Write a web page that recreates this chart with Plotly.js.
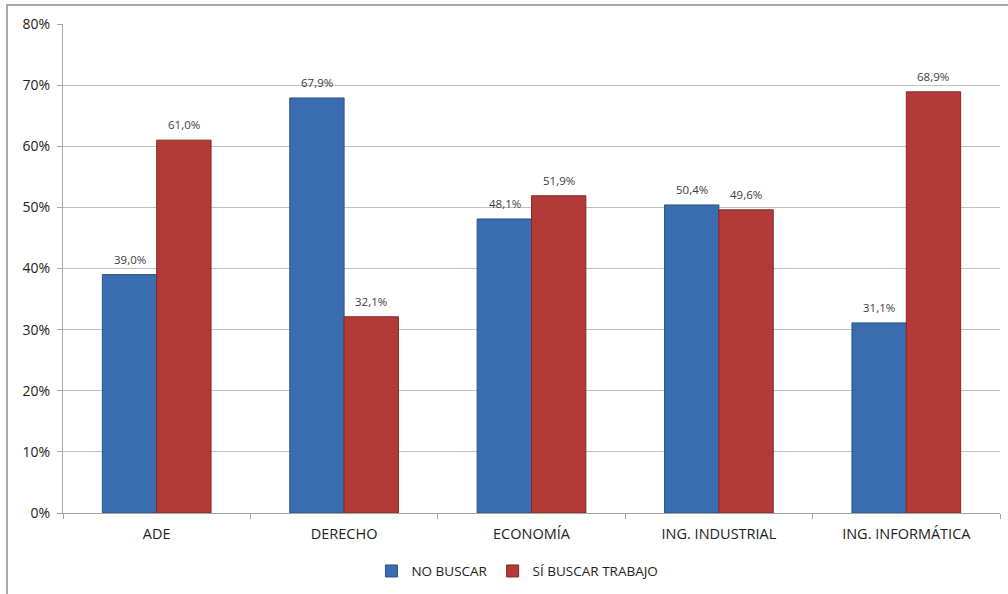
<!DOCTYPE html>
<html><head><meta charset="utf-8">
<script src="https://cdn.plot.ly/plotly-3.0.1.min.js"></script>
<style>body{margin:0;background:#fff}#c{width:1008px;height:594px}</style>
</head><body><div id="c"></div>
<script>
const categories = ["ADE", "DERECHO", "ECONOMÍA", "ING. INDUSTRIAL", "ING. INFORMÁTICA"];
const noBuscar = [0.390, 0.679, 0.481, 0.504, 0.311];
const siBuscar = [0.610, 0.321, 0.519, 0.496, 0.689];
const seriesNames = ["NO BUSCAR", "SÍ BUSCAR TRABAJO"];
const yTicks = [0, 0.1, 0.2, 0.3, 0.4, 0.5, 0.6, 0.7, 0.8];

const font = "Open Sans, Noto Sans, sans-serif";
const common = {
  type: "bar",
  x: categories,
  hoverinfo: "skip"
};
const data = [
  Object.assign({}, common, {name: seriesNames[0], y: noBuscar,
    marker: {color: "#3a6db0", line: {color: "#2b5386", width: 1}}}),
  Object.assign({}, common, {name: seriesNames[1], y: siBuscar,
    marker: {color: "#b23a37", line: {color: "#862826", width: 1}}})
];
const fmt = v => (v * 100).toFixed(1).replace(".", ",") + "%";
const annotations = [];
[noBuscar, siBuscar].forEach((vals, s) => {
  vals.forEach((v, i) => {
    annotations.push({
      x: categories[i], y: v, xref: "x", yref: "y",
      xshift: s === 0 ? -27 : 27, yshift: 6, yanchor: "bottom",
      text: fmt(v), showarrow: false,
      font: {family: font, size: 11.5, color: "#404040"}
    });
  });
});
const layout = {
  width: 1008, height: 594,
  margin: {l: 63, r: 8, t: 24, b: 81, autoexpand: false},
  separators: ",.",
  paper_bgcolor: "#fff", plot_bgcolor: "#fff",
  barmode: "group", bargap: 0.42, bargroupgap: 0,
  font: {family: font, size: 13, color: "#222"},
  xaxis: {
    type: "category", tickson: "boundaries", ticks: "outside", ticklen: 5,
    tickcolor: "#a6a6a6", showline: true, linecolor: "#a6a6a6", linewidth: 1,
    showgrid: false, tickfont: {family: font, size: 14.5, color: "#222"},
    ticklabelstandoff: 8, fixedrange: true, automargin: false
  },
  yaxis: {
    range: [0, 0.8], tickvals: yTicks, tickformat: ".0%",
    ticks: "outside", ticklen: 5, tickcolor: "#a6a6a6",
    showline: true, linecolor: "#a6a6a6", linewidth: 1,
    showgrid: true, gridcolor: "#c0c0c0", gridwidth: 1, zeroline: false,
    tickfont: {family: font, size: 14, color: "#222"},
    ticklabelstandoff: 4, fixedrange: true, automargin: false
  },
  legend: {
    orientation: "h", x: 0.485, xanchor: "center", y: -0.119, yanchor: "middle",
    font: {family: font, size: 13.5, color: "#222"}, itemwidth: 30, traceorder: "normal"
  },
  showlegend: true,
  annotations: annotations,
  shapes: [{
    type: "rect", xref: "paper", yref: "paper",
    x0: (7 - 63) / 937, x1: 1.2, y0: -0.5, y1: (513 - 5) / 489,
    line: {color: "#8c8c8c", width: 1.5}, fillcolor: "rgba(0,0,0,0)", layer: "below"
  }]
};
Plotly.newPlot("c", data, layout, {displayModeBar: false, staticPlot: true});
</script></body></html>
